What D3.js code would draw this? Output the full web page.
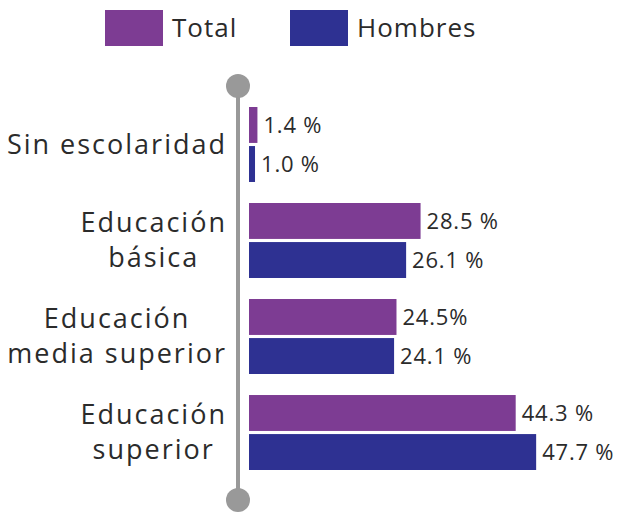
<!DOCTYPE html>
<html>
<head>
  <meta charset="UTF-8">
  <title>Escolaridad</title>
  <script src="https://d3js.org/d3.v7.min.js"></script>
  <style>
    body { margin: 0; background: #fff; }
    svg text { font-family: "Open Sans", sans-serif; fill: #2b2b2b; }
  </style>
</head>
<body>
  <svg width="618" height="514"></svg>
  <script>
    // data
    var categories = ["Sin escolaridad", "Educación básica", "Educación media superior", "Educación superior"]
    var categoryLines = [["Sin escolaridad"], ["Educación", "básica"], ["Educación", "media superior"], ["Educación", "superior"]]
    var series = ["Total", "Hombres"]
    var totalValues = [1.4, 28.5, 24.5, 44.3]
    var hombresValues = [1.0, 26.1, 24.1, 47.7]
    var totalLabels = ["1.4 %", "28.5 %", "24.5%", "44.3 %"]
    var hombresLabels = ["1.0 %", "26.1 %", "24.1 %", "47.7 %"]
    var colors = ["#7d3c93", "#2e3192"]

    var svg = d3.select("svg")

    var x = d3.scaleLinear().domain([0, 50]).range([249, 550])
    var y0 = d3.scaleBand().domain(categories).range([107, 470]).paddingInner(0.219).paddingOuter(0)
    var y1 = d3.scaleBand().domain(series).range([0, y0.bandwidth()]).paddingInner(0.08)

    // vertical axis line with knobs
    svg.append("line")
      .attr("x1", 238).attr("x2", 238)
      .attr("y1", 86).attr("y2", 500)
      .attr("stroke", "#999").attr("stroke-width", 4)
    svg.selectAll(".knob")
      .data([86, 500])
      .enter().append("circle")
      .attr("class", "knob")
      .attr("cx", 238).attr("cy", function(d) { return d })
      .attr("r", 12).attr("fill", "#999")

    var rows = categories.map(function(c, i) {
      return {
        cat: c,
        lines: categoryLines[i],
        vals: [
          { s: "Total", v: totalValues[i], l: totalLabels[i] },
          { s: "Hombres", v: hombresValues[i], l: hombresLabels[i] }
        ]
      }
    })

    var g = svg.selectAll(".grp")
      .data(rows)
      .enter().append("g")
      .attr("class", "grp")
      .attr("transform", function(d) { return "translate(0," + y0(d.cat) + ")" })

    g.selectAll("rect")
      .data(function(d) { return d.vals })
      .enter().append("rect")
      .attr("x", x(0))
      .attr("y", function(d) { return y1(d.s) })
      .attr("width", function(d) { return x(d.v) - x(0) })
      .attr("height", y1.bandwidth())
      .attr("fill", function(d, i) { return colors[i] })

    g.selectAll(".val")
      .data(function(d) { return d.vals })
      .enter().append("text")
      .attr("class", "val")
      .attr("x", function(d) { return x(d.v) + 6 })
      .attr("y", function(d) { return y1(d.s) + y1.bandwidth() / 2 })
      .attr("dy", "0.35em")
      .attr("font-size", 22)
      .attr("letter-spacing", 0.8)
      .text(function(d) { return d.l })

    // category labels, lines centred on each other, block right-aligned
    var rightEdge = 227, lineH = 35
    g.each(function(d) {
      var grp = d3.select(this)
      var n = d.lines.length
      var mid = y0.bandwidth() / 2
      var texts = grp.selectAll(".cat")
        .data(d.lines)
        .enter().append("text")
        .attr("class", "cat")
        .attr("font-size", 27)
        .attr("letter-spacing", 2)
        .attr("text-anchor", "middle")
        .attr("y", function(t, i) { return mid + (i - (n - 1) / 2) * lineH })
        .attr("dy", "0.35em")
        .text(function(t) { return t })
      var maxW = 0
      texts.each(function() { maxW = Math.max(maxW, this.getComputedTextLength()) })
      texts.attr("x", rightEdge - maxW / 2)
    })

    // legend
    var legend = svg.selectAll(".leg")
      .data(series)
      .enter().append("g")
      .attr("class", "leg")
      .attr("transform", function(d, i) { return "translate(" + [105, 290][i] + ",10)" })
    legend.append("rect")
      .attr("width", 58).attr("height", 36)
      .attr("fill", function(d, i) { return colors[i] })
    legend.append("text")
      .attr("x", 67).attr("y", 18).attr("dy", "0.35em")
      .attr("font-size", 26)
      .attr("letter-spacing", 1)
      .text(function(d) { return d })
  </script>
</body>
</html>
